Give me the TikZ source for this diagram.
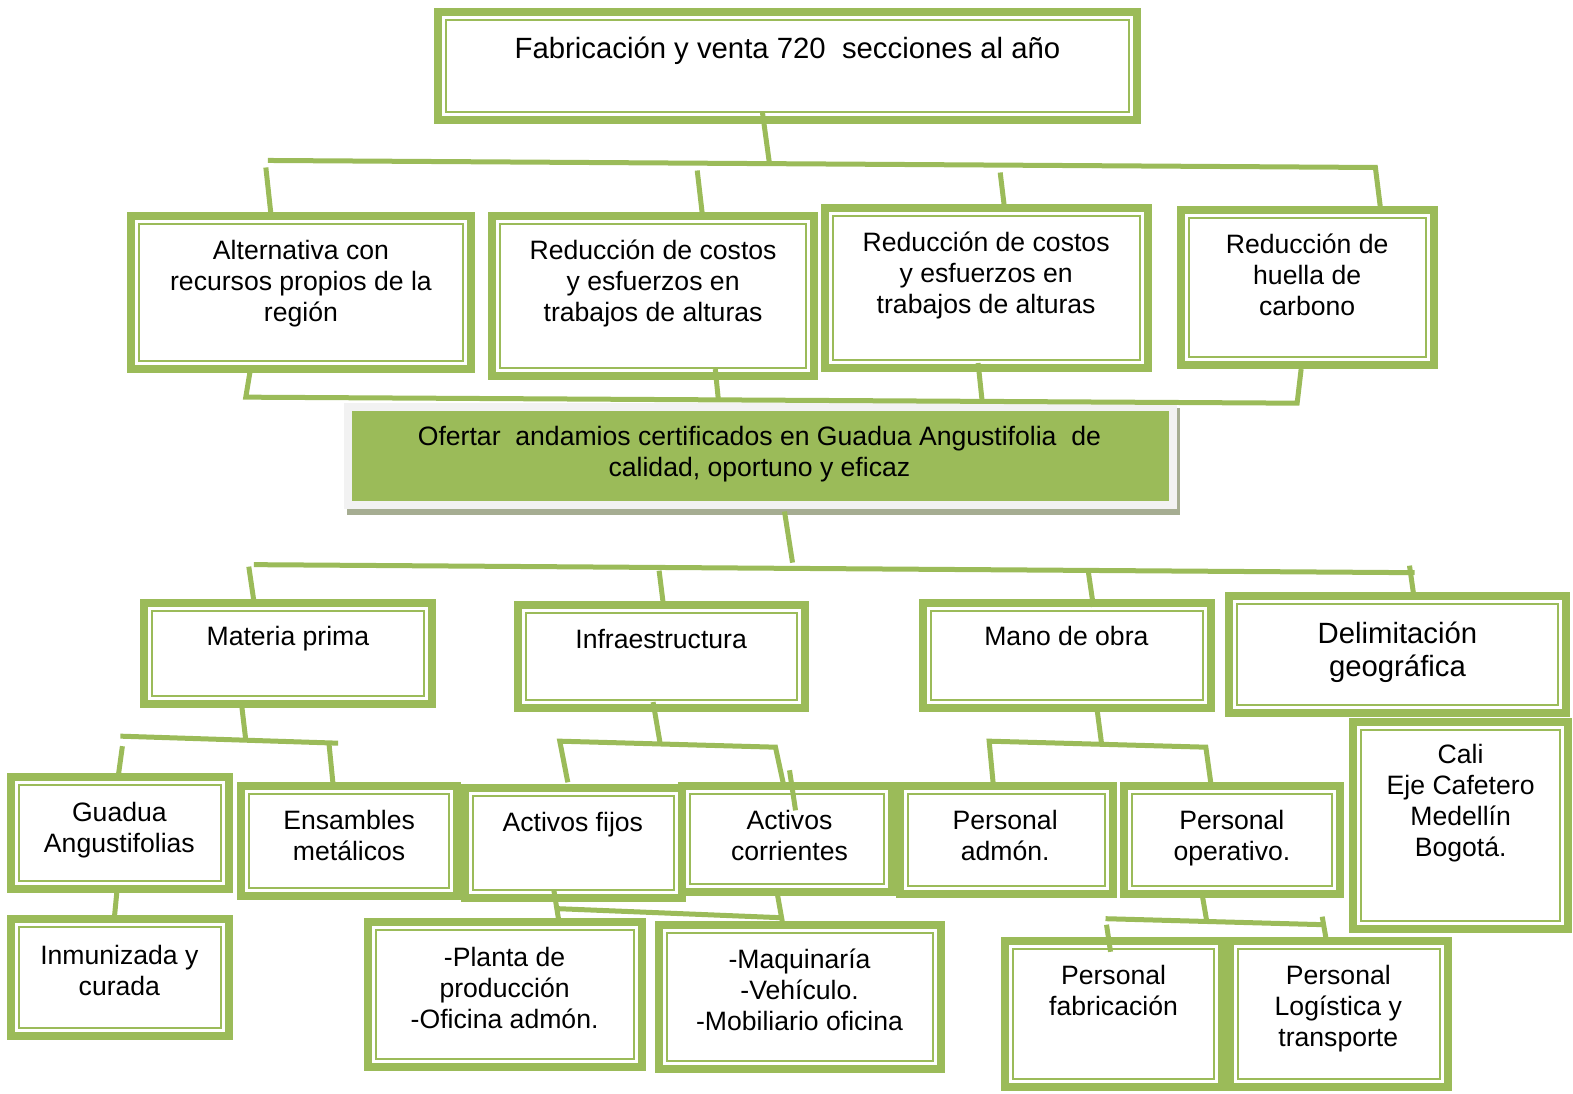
\documentclass[tikz,border=0pt]{standalone}
\usepackage{fontspec}
\setmainfont{Liberation Sans}
\usetikzlibrary{fit}
\definecolor{og}{HTML}{9BBB59}
\definecolor{frameg}{HTML}{F2F2F2}
\definecolor{shadowg}{HTML}{A6AD92}
\tikzset{
  dbox/.style={draw=og, line width=4pt, fill=white, inner sep=0pt,
    path picture={\draw[og, line width=1pt]
      ([shift={(4pt,-4pt)}]path picture bounding box.north west) rectangle
      ([shift={(-4pt,4pt)}]path picture bounding box.south east);}},
  txt/.style={align=center, font=\fontsize{13.3}{15.55}\selectfont, inner sep=0pt},
  bigtxt/.style={align=center, font=\fontsize{14.65}{16.55}\selectfont, inner sep=0pt},
  conn/.style={draw=og, line width=2.5pt},
}
\begin{document}
\begin{tikzpicture}[x=0.50159pt,y=-0.50147pt]
\useasboundingbox (0,0) rectangle (1568,1090);
% ---------- boxes ----------
\node[dbox, fit={(437,12) (1133,120)}] (top) {};
\node[dbox, fit={(131,215) (469,368)}] (b1) {};
\node[dbox, fit={(490,215) (811,375)}] (b2) {};
\node[dbox, fit={(822,207) (1144,367)}] (b3) {};
\node[dbox, fit={(1177,209) (1429,364)}] (b4) {};
% central
\node[fill=shadowg, inner sep=0pt, fit={(346,407) (1176,513)}] (cshadow) {};
\node[fill=frameg, inner sep=0pt, fit={(343,402) (1173,508)}] (cframe) {};
\node[fill=og, inner sep=0pt, fit={(351,410) (1165,500)}] (central) {};
% row 3
\node[dbox, fit={(144,601) (431,702)}] (mp) {};
\node[dbox, fit={(516,603) (802,706)}] (inf) {};
\node[dbox, fit={(920,601) (1207,706)}] (mo) {};
\node[dbox, fit={(1225,594) (1561,711)}] (del) {};
% row 4
\node[dbox, fit={(11,775) (228,886)}] (gu) {};
\node[dbox, fit={(240,784) (456,893)}] (en) {};
\node[dbox, fit={(464,786) (680,895)}] (af) {};
\node[dbox, fit={(680,784) (889,889)}] (ac) {};
\node[dbox, fit={(897,784) (1109,891)}] (pa) {};
\node[dbox, fit={(1120,784) (1336,891)}] (po) {};
\node[dbox, fit={(1349,720) (1563,926)}] (cali) {};
% row 5
\node[dbox, fit={(11,916) (228,1033)}] (inm) {};
\node[dbox, fit={(367,919) (640,1064)}] (pla) {};
\node[dbox, fit={(657,922) (938,1066)}] (maq) {};
\node[dbox, fit={(1002,938) (1218,1084)}] (pf) {};
\node[dbox, fit={(1226,938) (1443,1084)}] (plog) {};
% ---------- texts ----------
\node[bigtxt] (ttop) at (785,51) {Fabricación y venta 720\ \ secciones al año};
\node[txt] (tb1) at (300,283) {Alternativa con\\recursos propios de la\\región};
\node[txt] (tb2) at (651,283) {Reducción de costos\\y esfuerzos en\\trabajos de alturas};
\node[txt] (tb3) at (983,275) {Reducción de costos\\y esfuerzos en\\trabajos de alturas};
\node[txt] (tb4) at (1303,274) {Reducción de\\huella de\\carbono};
\node[txt] (tc) at (757,453) {Ofertar\ \ andamios certificados en Guadua Angustifolia\ \ de\\calidad, oportuno y eficaz};
\node[txt] (tmp) at (287,637) {Materia prima};
\node[txt] (tinf) at (659,637) {Infraestructura};
\node[txt] (tmo) at (1063,634) {Mano de obra};
\node[bigtxt] (tdel) at (1393,650) {Delimitación\\geográfica};
\node[txt] (tgu) at (119,828) {Guadua\\Angustifolias};
\node[txt] (ten) at (348,833) {Ensambles\\metálicos};
\node[txt] (taf) at (571,822) {Activos fijos};
\node[txt] (tac) at (787,833) {Activos\\corrientes};
\node[txt] (tpa) at (1002,833) {Personal\\admón.};
\node[txt] (tpo) at (1228,836) {Personal\\operativo.};
\node[txt] (tcali) at (1456,801) {Cali\\Eje Cafetero\\Medellín\\Bogotá.};
\node[txt] (tinm) at (119,968) {Inmunizada y\\curada};
\node[txt] (tpla) at (503,985) {-Planta de\\producción\\-Oficina admón.};
\node[txt] (tmaq) at (797,987) {-Maquinaría\\-Vehículo.\\-Mobiliario oficina};
\node[txt] (tpf) at (1110,988) {Personal\\fabricación};
\node[txt] (tplog) at (1334,1006) {Personal\\Logística y\\transporte};
% ---------- connectors ----------
% level 1
\coordinate (a1) at (760,112); \coordinate (a2) at (767,163);
\draw[conn] (a1) -- (a2);
\coordinate (bar1L) at (267,160); \coordinate (bar1R) at (1371,167);
\coordinate (d4) at (1376,207);
\draw[conn] (bar1L) -- (bar1R) -- (d4);
\coordinate (d1a) at (265,167); \coordinate (d1b) at (270,213);
\draw[conn] (d1a) -- (d1b);
\coordinate (d2a) at (695,170); \coordinate (d2b) at (700,213);
\draw[conn] (d2a) -- (d2b);
\coordinate (d3a) at (997,172); \coordinate (d3b) at (1001,205);
\draw[conn] (d3a) -- (d3b);
% level 2
\coordinate (r1) at (250,366); \coordinate (bar2L) at (245,396);
\coordinate (bar2R) at (1293,402); \coordinate (r4) at (1297,368);
\draw[conn] (r1) -- (bar2L) -- (bar2R) -- (r4);
\coordinate (r2a) at (713,368); \coordinate (r2b) at (716,398);
\draw[conn] (r2a) -- (r2b);
\coordinate (r3a) at (975,362); \coordinate (r3b) at (979,400);
\draw[conn] (r3a) -- (r3b);
% level 3
\coordinate (c1) at (782,510); \coordinate (c2) at (790,561);
\draw[conn] (c1) -- (c2);
\coordinate (bar3L) at (253,563); \coordinate (bar3R) at (1410,571);
\draw[conn] (bar3L) -- (bar3R);
\coordinate (e1a) at (248,565); \coordinate (e1b) at (253,599);
\draw[conn] (e1a) -- (e1b);
\coordinate (e2a) at (657,569); \coordinate (e2b) at (661,601);
\draw[conn] (e2a) -- (e2b);
\coordinate (e3a) at (1085,571); \coordinate (e3b) at (1090,605);
\draw[conn] (e3a) -- (e3b);
\coordinate (e4a) at (1405,564); \coordinate (e4b) at (1409,592);
\draw[conn] (e4a) -- (e4b);
% materia prima
\coordinate (m1) at (241,704); \coordinate (m2) at (245,738);
\draw[conn] (m1) -- (m2);
\coordinate (mbL) at (120,734); \coordinate (mbR) at (337,741);
\draw[conn] (mbL) -- (mbR);
\coordinate (mg1) at (122,744); \coordinate (mg2) at (118,773);
\draw[conn] (mg1) -- (mg2);
\coordinate (me1) at (328,742); \coordinate (me2) at (332,782);
\draw[conn] (me1) -- (me2);
% infraestructura
\coordinate (i1) at (651,700); \coordinate (i2) at (658,741);
\draw[conn] (i1) -- (i2);
\coordinate (iaf) at (566,780); \coordinate (ibL) at (558,739);
\coordinate (ibR) at (773,745); \coordinate (iac) at (781,782);
\draw[conn] (iaf) -- (ibL) -- (ibR) -- (iac);
\coordinate (ix1) at (787,768); \coordinate (ix2) at (793,808);
\draw[conn] (ix1) -- (ix2);
% mano de obra
\coordinate (o1) at (1093,703); \coordinate (o2) at (1098,741);
\draw[conn] (o1) -- (o2);
\coordinate (opa) at (990,781); \coordinate (obL) at (986,739);
\coordinate (obR) at (1202,745); \coordinate (opo) at (1207,781);
\draw[conn] (opa) -- (obL) -- (obR) -- (opo);
% guadua -> inmunizada
\coordinate (g1) at (117,884); \coordinate (g2) at (114,915);
\draw[conn] (g1) -- (g2);
% activos -> planta / maquinaria
\coordinate (f1) at (552,887); \coordinate (f2) at (557,918);
\draw[conn] (f1) -- (f2);
\coordinate (fbL) at (556,906); \coordinate (fbR) at (778,915);
\draw[conn] (fbL) -- (fbR);
\coordinate (k1) at (775,892); \coordinate (k2) at (780,920);
\draw[conn] (k1) -- (k2);
% personal operativo -> fabricacion / logistica
\coordinate (p1) at (1198,890); \coordinate (p2) at (1203,919);
\draw[conn] (p1) -- (p2);
\coordinate (pbL) at (1102,916); \coordinate (pbR) at (1320,922);
\draw[conn] (pbL) -- (pbR);
\coordinate (pf1) at (1103,922); \coordinate (pf2) at (1107,949);
\draw[conn] (pf1) -- (pf2);
\coordinate (pl1) at (1318,914); \coordinate (pl2) at (1322,937);
\draw[conn] (pl1) -- (pl2);
\end{tikzpicture}
\end{document}
